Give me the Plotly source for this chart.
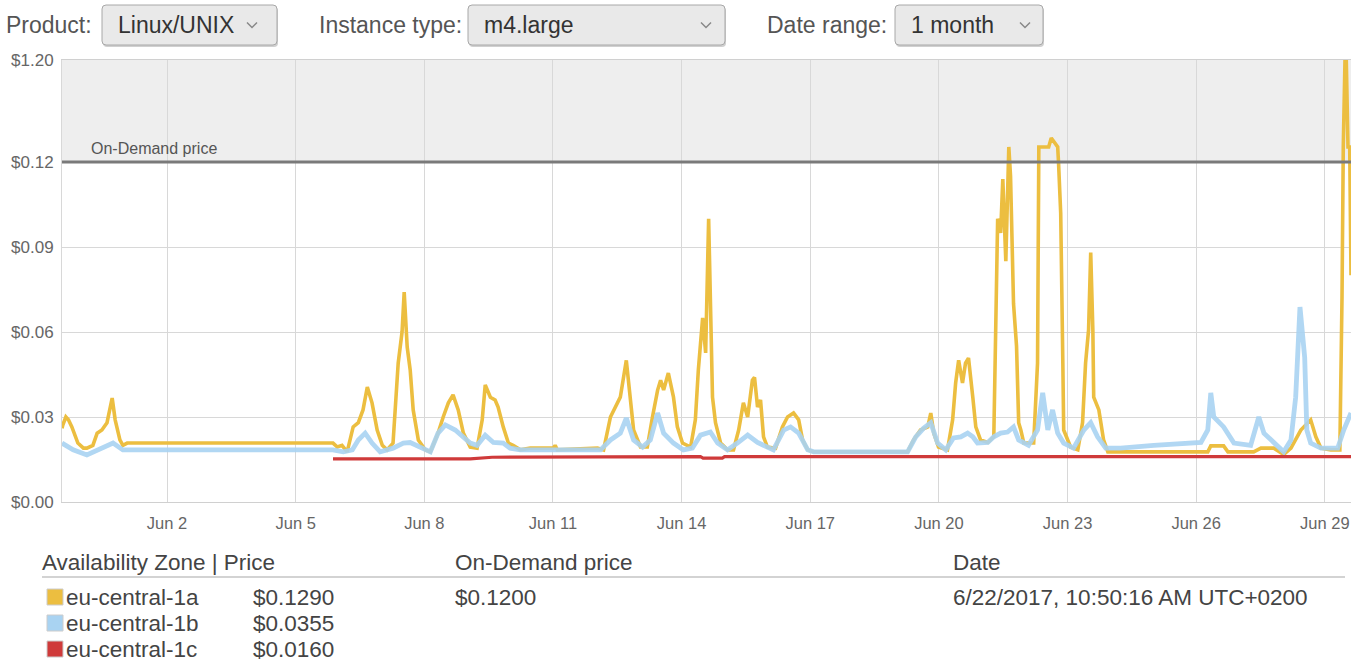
import pandas as pd
import plotly.graph_objects as go

# ---------------- data ----------------
# time as "day of June" (fractional); values in USD
zone_names = ["eu-central-1a", "eu-central-1b", "eu-central-1c"]
zone_prices = ["$0.1290", "$0.0355", "$0.0160"]
zone_colors = ["#ECBE40", "#A9D3F2", "#CF3A3A"]

on_demand_price = 0.12
on_demand_label = "$0.1200"
hover_date = "6/22/2017, 10:50:16 AM UTC+0200"

a_days = [-0.45, -0.43, -0.36, -0.30, -0.22, -0.08, 0.05, 0.13, 0.27, 0.37, 0.48, 0.60, 0.72, 0.79, 0.90, 0.97, 1.07,
          5.87, 5.97, 6.08, 6.20, 6.34, 6.46, 6.57, 6.67, 6.78, 6.90, 7.02, 7.13, 7.27, 7.39, 7.48, 7.53, 7.60, 7.67,
          7.74, 7.86, 8.02, 8.14, 8.32, 8.44, 8.56, 8.67, 8.79, 8.91, 9.07, 9.23, 9.35, 9.42, 9.54, 9.65, 9.72, 9.84,
          9.96, 10.07, 10.24, 10.47, 11.01, 11.05, 11.10, 12.04, 12.18, 12.34, 12.46, 12.57, 12.71, 12.81, 12.88,
          13.04, 13.20, 13.32, 13.44, 13.51, 13.58, 13.69, 13.81, 13.90, 14.02, 14.21, 14.32, 14.39, 14.49, 14.56,
          14.63, 14.72, 14.79, 14.91, 15.07, 15.21, 15.33, 15.44, 15.54, 15.65, 15.70, 15.77, 15.84, 15.91, 16.00,
          16.19, 16.35, 16.47, 16.61, 16.73, 16.82, 16.94, 17.08, 19.27, 19.41, 19.57, 19.74, 19.81, 19.88, 19.99,
          20.20, 20.32, 20.39, 20.46, 20.55, 20.62, 20.69, 20.79, 20.86, 20.97, 21.14, 21.28, 21.32, 21.37, 21.44,
          21.49, 21.56, 21.63, 21.67, 21.74, 21.81, 21.86, 21.91, 21.98, 22.21, 22.30, 22.33, 22.56, 22.62, 22.68,
          22.77, 22.79, 22.84, 22.89, 22.91, 23.07, 23.24, 23.35, 23.42, 23.49, 23.54, 23.59, 23.61, 23.73, 23.84,
          23.94, 26.27, 26.34, 26.64, 26.74, 27.34, 27.51, 27.81, 28.04, 28.21, 28.44, 28.67, 28.79, 28.91, 29.14,
          29.35, 29.40, 29.43, 29.47, 29.50, 29.54, 29.58, 29.61]
a_vals = [0.026, 0.0272, 0.030, 0.029, 0.0265, 0.0208, 0.019, 0.019, 0.020, 0.0243, 0.0254, 0.028, 0.0367, 0.029,
          0.0219, 0.020, 0.0208,
          0.0208, 0.0194, 0.020, 0.0177, 0.0265, 0.028, 0.0325, 0.0406, 0.035, 0.0254, 0.020, 0.0184, 0.0208, 0.049,
          0.060, 0.0741, 0.0547, 0.0466, 0.0325, 0.0219, 0.0184, 0.0177, 0.0243, 0.030, 0.035, 0.0378, 0.0325,
          0.0243, 0.0194, 0.019, 0.029, 0.0413, 0.037, 0.036, 0.0335, 0.0265, 0.0208, 0.020, 0.0184, 0.019, 0.019,
          0.0200, 0.0184, 0.019, 0.0184, 0.030, 0.0335, 0.037, 0.050, 0.037, 0.0254, 0.0194, 0.0194, 0.030, 0.0395,
          0.043, 0.0395, 0.0455, 0.037, 0.0265, 0.0208, 0.0194, 0.029, 0.0466, 0.065, 0.0526, 0.100, 0.037, 0.028,
          0.0208, 0.0184, 0.0184, 0.0254, 0.035, 0.030, 0.043, 0.044, 0.0335, 0.036, 0.023, 0.0194, 0.019, 0.0265,
          0.030, 0.0314, 0.029, 0.0219, 0.0184, 0.0177, 0.0177, 0.0219, 0.0254, 0.0265, 0.0314, 0.0243, 0.0194,
          0.0184, 0.029, 0.042, 0.050, 0.042, 0.049, 0.0508, 0.037, 0.0265, 0.0219, 0.021, 0.023, 0.058, 0.100,
          0.095, 0.114, 0.085, 0.1253, 0.115, 0.070, 0.055, 0.028, 0.0254, 0.0208, 0.0208, 0.049, 0.1253, 0.1253,
          0.1285, 0.127, 0.1253, 0.1197, 0.102, 0.049, 0.0254, 0.0194, 0.0184, 0.028, 0.049, 0.0607, 0.088, 0.0607,
          0.037, 0.0325, 0.0219, 0.0177, 0.0177, 0.0198, 0.0198, 0.0177, 0.0177, 0.019, 0.019, 0.0168, 0.019,
          0.0254, 0.029, 0.023, 0.019, 0.0184, 0.0184, 0.072, 0.1253, 0.156, 0.156, 0.1253, 0.1253, 0.080]

b_days = [-0.45, -0.19, 0.13, 0.37, 0.51, 0.74, 0.97, 5.87, 6.11, 6.32, 6.46, 6.62, 6.78, 6.97, 7.27, 7.51, 7.67,
          7.90, 8.14, 8.32, 8.49, 8.72, 8.91, 9.07, 9.23, 9.42, 9.61, 9.84, 10.00, 10.24, 12.11, 12.34, 12.57, 12.71,
          12.88, 13.09, 13.27, 13.44, 13.58, 13.81, 14.04, 14.25, 14.44, 14.67, 14.84, 15.07, 15.30, 15.54, 15.77,
          15.91, 16.14, 16.38, 16.54, 16.73, 16.94, 17.08, 19.27, 19.46, 19.64, 19.81, 19.97, 20.16, 20.34, 20.51,
          20.67, 20.79, 20.90, 21.14, 21.28, 21.44, 21.60, 21.74, 21.86, 22.09, 22.30, 22.42, 22.54, 22.65, 22.77,
          22.91, 23.14, 23.38, 23.54, 23.70, 23.89, 24.24, 25.01, 26.11, 26.27, 26.34, 26.41, 26.64, 26.88, 27.27,
          27.46, 27.58, 27.81, 28.04, 28.21, 28.32, 28.42, 28.49, 28.53, 28.58, 28.67, 28.91, 29.30, 29.44, 29.61]
b_vals = [0.0208, 0.0184, 0.0166, 0.0184, 0.0194, 0.0208, 0.0184, 0.0184, 0.0177, 0.0184, 0.0219, 0.0243, 0.0208,
          0.0177, 0.019, 0.0208, 0.021, 0.0194, 0.0177, 0.0243, 0.0272, 0.0254, 0.023, 0.0208, 0.020, 0.0236, 0.021,
          0.0208, 0.019, 0.0184, 0.0184, 0.0219, 0.0243, 0.0296, 0.0219, 0.0194, 0.0219, 0.0314, 0.0243, 0.0208,
          0.0184, 0.019, 0.0236, 0.0247, 0.0208, 0.0184, 0.0208, 0.0236, 0.021, 0.020, 0.0184, 0.0254, 0.0265,
          0.0243, 0.0184, 0.0177, 0.0177, 0.023, 0.026, 0.028, 0.0208, 0.0184, 0.0226, 0.023, 0.0243, 0.023, 0.0208,
          0.021, 0.023, 0.0243, 0.0247, 0.0265, 0.0219, 0.020, 0.0254, 0.0385, 0.0254, 0.0325, 0.0243, 0.0208,
          0.019, 0.0254, 0.028, 0.023, 0.019, 0.019, 0.020, 0.021, 0.0254, 0.0385, 0.030, 0.0265, 0.0208, 0.020,
          0.030, 0.0243, 0.0208, 0.0177, 0.0219, 0.037, 0.0688, 0.056, 0.051, 0.0254, 0.0208, 0.019, 0.019, 0.0254,
          0.0314]

c_days = [5.87, 9.07, 9.58, 14.44, 14.50, 14.95, 15.00, 29.61]
c_vals = [0.0152, 0.0152, 0.0158, 0.0160, 0.0155, 0.0155, 0.0160, 0.0160]

y_tick_vals = [0.0, 0.03, 0.06, 0.09, 0.12, 0.156]
y_tick_text = ["$0.00", "$0.03", "$0.06", "$0.09", "$0.12", "$1.20"]

x_start_day, x_end_day = -0.45, 29.61
x_tick_days = [2, 5, 8, 11, 14, 17, 20, 23, 26, 29]

BASE = pd.Timestamp("2017-05-31")


def to_time(days):
    return [BASE + pd.Timedelta(days=d) for d in days]


# ---------------- layout helpers (pixel -> paper) ----------------
W, H = 1354, 670
L, R, T, B = 62, 1351, 60, 502


def px(x):
    return (x - L) / (R - L)


def py(y):
    return (B - y) / (B - T)


FONT = "Liberation Sans, Arial, Helvetica, sans-serif"

fig = go.Figure()

# series (yellow, blue, red)
fig.add_trace(go.Scatter(x=to_time(a_days), y=a_vals, mode="lines", name=zone_names[0],
                         line=dict(color=zone_colors[0], width=3.6), hoverinfo="skip"))
fig.add_trace(go.Scatter(x=to_time(b_days), y=b_vals, mode="lines", name=zone_names[1],
                         line=dict(color=zone_colors[1], width=4.8), opacity=0.9, hoverinfo="skip"))
fig.add_trace(go.Scatter(x=to_time(c_days), y=c_vals, mode="lines", name=zone_names[2],
                         line=dict(color=zone_colors[2], width=3.2), hoverinfo="skip"))
# on-demand line
fig.add_trace(go.Scatter(x=to_time([x_start_day, x_end_day]), y=[on_demand_price, on_demand_price],
                         mode="lines", line=dict(color="#7a7a7a", width=3), hoverinfo="skip",
                         name="On-Demand price"))

shapes = []
# gray band above on-demand price
shapes.append(dict(type="rect", xref="paper", yref="y", x0=0, x1=1, y0=on_demand_price,
                   y1=y_tick_vals[-1], fillcolor="#eeeeee", line=dict(width=0), layer="below"))


def rrect(x0, y0, x1, y1, r=4):
    pts = (f"M {px(x0 + r)},{py(y0)} L {px(x1 - r)},{py(y0)} Q {px(x1)},{py(y0)} {px(x1)},{py(y0 + r)} "
           f"L {px(x1)},{py(y1 - r)} Q {px(x1)},{py(y1)} {px(x1 - r)},{py(y1)} "
           f"L {px(x0 + r)},{py(y1)} Q {px(x0)},{py(y1)} {px(x0)},{py(y1 - r)} "
           f"L {px(x0)},{py(y0 + r)} Q {px(x0)},{py(y0)} {px(x0 + r)},{py(y0)} Z")
    return pts


def chevron(cx, cy, w=10, h=5):
    return f"M {px(cx - w / 2)},{py(cy - h / 2)} L {px(cx)},{py(cy + h / 2)} L {px(cx + w / 2)},{py(cy - h / 2)}"


boxes = [(102, 277, 252), (468, 725, 706), (895, 1043, 1025)]
for x0, x1, cx in boxes:
    shapes.append(dict(type="path", xref="paper", yref="paper", path=rrect(x0 + 1, 7, x1 + 1, 47),
                       fillcolor="#d0d0d0", line=dict(width=0)))
    shapes.append(dict(type="path", xref="paper", yref="paper", path=rrect(x0, 5, x1, 45),
                       fillcolor="#e9e9e9", line=dict(color="#a8a8a8", width=1)))
    shapes.append(dict(type="path", xref="paper", yref="paper", path=chevron(cx, 25),
                       line=dict(color="#888888", width=1.5)))

# legend table
shapes.append(dict(type="line", xref="paper", yref="paper", x0=px(42), x1=px(1345), y0=py(577), y1=py(577),
                   line=dict(color="#c4c4c4", width=1.5)))
row_y = [597, 623, 649]
for i, yy in enumerate(row_y):
    shapes.append(dict(type="rect", xref="paper", yref="paper", x0=px(47), x1=px(63), y0=py(yy - 8),
                       y1=py(yy + 8), fillcolor=zone_colors[i], line=dict(color="#cccccc", width=1)))

annotations = []


def text(x, y, s, size, color="#444444", anchor="left"):
    annotations.append(dict(xref="paper", yref="paper", x=px(x), y=py(y), text=s, showarrow=False,
                            xanchor=anchor, yanchor="middle",
                            font=dict(family=FONT, size=size, color=color)))


# controls
text(4, 25, "Product:", 23, "#555555")
text(116, 25, "Linux/UNIX", 23, "#333333")
text(317, 25, "Instance type:", 23, "#555555")
text(482, 25, "m4.large", 23, "#333333")
text(765, 25, "Date range:", 23, "#555555")
text(909, 25, "1 month", 23, "#333333")

# on-demand label
text(89, 148, "On-Demand price", 16, "#555555")

# legend header
LEG = 22.5
text(40, 562, "Availability Zone | Price", LEG, "#444444")
text(453, 562, "On-Demand price", LEG, "#444444")
text(951, 562, "Date", LEG, "#444444")
for i, yy in enumerate(row_y):
    text(64, yy, zone_names[i], LEG, "#444444")
    text(251, yy, zone_prices[i], LEG, "#444444")
text(453, row_y[0], on_demand_label, LEG, "#444444")
text(951, row_y[0], hover_date, LEG, "#444444")

fig.update_layout(
    width=W, height=H,
    margin=dict(l=L, r=W - R, t=T, b=H - B, pad=0),
    paper_bgcolor="white", plot_bgcolor="white",
    showlegend=False,
    shapes=shapes,
    annotations=annotations,
    font=dict(family=FONT),
)
fig.update_xaxes(
    range=to_time([x_start_day, x_end_day]),
    tickvals=to_time(x_tick_days),
    ticktext=[f"Jun {d}" for d in x_tick_days],
    showgrid=True, gridcolor="#d8d8d8", gridwidth=1,
    showline=True, linecolor="#d0d0d0", linewidth=1, mirror=True,
    ticks="outside", ticklen=6, tickcolor="rgba(0,0,0,0)",
    tickfont=dict(family=FONT, size=16.5, color="#666666"),
    zeroline=False, fixedrange=True,
)
fig.update_yaxes(
    range=[0, y_tick_vals[-1]],
    tickvals=y_tick_vals, ticktext=y_tick_text,
    showgrid=True, gridcolor="#d8d8d8", gridwidth=1,
    showline=True, linecolor="#d8d8d8", linewidth=1,
    ticks="outside", ticklen=4, tickcolor="rgba(0,0,0,0)",
    tickfont=dict(family=FONT, size=17, color="#666666"),
    zeroline=False, fixedrange=True,
)

fig.write_html("out.html", config={"displayModeBar": False},
               post_script="document.body.style.margin='0';document.body.style.overflow='hidden';")
